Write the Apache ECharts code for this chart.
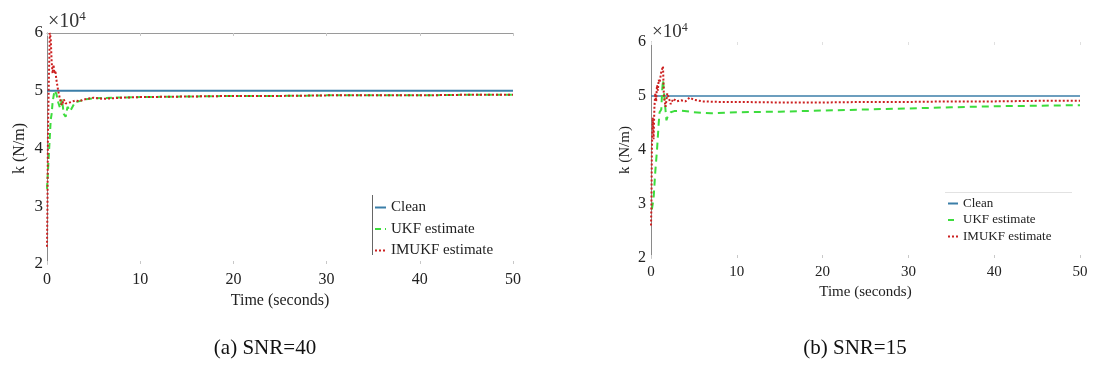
<!DOCTYPE html>
<html>
<head>
<meta charset="utf-8">
<script src="https://cdn.jsdelivr.net/npm/echarts@6/dist/echarts.min.js"></script>
<style>html,body{margin:0;padding:0;background:#fff}#c{width:1098px;height:376px}</style>
</head>
<body>
<div id="c"></div>
<script>
// values in units of 10^4 N/m, time in seconds
var xTicks = [0, 10, 20, 30, 40, 50];
var yTicks = [2, 3, 4, 5, 6];
var seriesNames = ['Clean', 'UKF estimate', 'IMUKF estimate'];
var captions = ['(a) SNR=40', '(b) SNR=15'];

// (a) SNR=40
var cleanA = [[0, 5], [50, 5]];
var ukfA = [[0, 3.3], [0.1, 3.6], [0.2, 3.9], [0.3, 4.2], [0.4, 4.5], [0.5, 4.6], [0.6, 4.8], [0.8, 5.0], [1.0, 4.95],
  [1.2, 4.8], [1.4, 4.7], [1.6, 4.85], [1.8, 4.6], [2.0, 4.55], [2.2, 4.72], [2.5, 4.65], [3.0, 4.8], [3.5, 4.82],
  [4.0, 4.85], [5.0, 4.87], [7, 4.88], [10, 4.89], [15, 4.9], [20, 4.91], [25, 4.91], [30, 4.92], [35, 4.92],
  [40, 4.92], [45, 4.93], [50, 4.93]];
var imukfA = [[0, 2.3], [0.05, 3.0], [0.1, 4.2], [0.2, 5.2], [0.3, 6.0], [0.4, 5.9], [0.5, 5.5], [0.6, 5.3], [0.7, 5.45],
  [0.8, 5.3], [0.9, 5.35], [1.0, 5.2], [1.2, 5.0], [1.4, 4.85], [1.6, 4.75], [1.8, 4.85], [2.0, 4.78], [2.5, 4.8],
  [3.0, 4.83], [3.5, 4.82], [4.0, 4.85], [5.0, 4.88], [6, 4.86], [8, 4.88], [10, 4.89], [15, 4.9], [20, 4.91],
  [25, 4.91], [30, 4.92], [35, 4.92], [40, 4.92], [45, 4.93], [50, 4.93]];

// (b) SNR=15
var cleanB = [[0, 5], [50, 5]];
var ukfB = [[0.1, 2.9], [0.3, 3.1], [0.5, 3.6], [0.7, 4.0], [0.9, 4.5], [1.0, 4.7], [1.2, 4.75], [1.3, 5.1], [1.4, 5.3],
  [1.6, 4.9], [1.8, 4.55], [2.0, 4.65], [2.3, 4.7], [2.7, 4.72], [3.5, 4.73], [5, 4.7], [7, 4.68], [10, 4.7],
  [15, 4.71], [20, 4.73], [25, 4.75], [30, 4.77], [35, 4.79], [40, 4.81], [45, 4.82], [50, 4.83]];
var imukfB = [[0, 2.6], [0.05, 3.0], [0.1, 4.0], [0.2, 4.6], [0.3, 4.2], [0.4, 4.8], [0.5, 5.05], [0.6, 4.9], [0.7, 5.2],
  [0.8, 5.1], [0.9, 5.3], [1.0, 5.25], [1.2, 5.45], [1.4, 5.55], [1.5, 5.0], [1.7, 4.8], [1.9, 5.05], [2.1, 4.95],
  [2.3, 4.85], [2.6, 4.95], [3.0, 4.9], [3.5, 4.92], [4.0, 4.9], [4.5, 4.97], [5.0, 4.93], [6.0, 4.9], [8.0, 4.89],
  [10, 4.89], [15, 4.88], [20, 4.88], [25, 4.89], [30, 4.89], [35, 4.9], [40, 4.9], [45, 4.91], [50, 4.91]];

var FONT = '"Liberation Serif", "Times New Roman", serif';
var C_CLEAN = '#3b7ea8', C_UKF = '#3ddc3d', C_IMUKF = '#cc2020';

function xAxisDef(grid, pos, opts) {
  return Object.assign({
    type: 'value', gridIndex: grid, position: pos, min: xTicks[0], max: xTicks[xTicks.length - 1], interval: 10,
    splitLine: {show: false},
    axisTick: {show: true, inside: true, length: 3, lineStyle: {color: '#c8c8c8'}},
    axisLine: {show: false},
    axisLabel: {show: false}
  }, opts);
}
function yAxisDef(grid, opts) {
  return Object.assign({
    type: 'value', gridIndex: grid, min: yTicks[0], max: yTicks[yTicks.length - 1], interval: 1,
    splitLine: {show: false},
    axisTick: {show: false},
    axisLine: {show: true, lineStyle: {color: '#8a8a8a', width: 1}},
    name: 'k (N/m)', nameLocation: 'middle', nameRotate: 90,
    nameTextStyle: {fontFamily: FONT, fontSize: 16, color: '#222'},
    axisLabel: {fontFamily: FONT, fontSize: 16, color: '#222'}
  }, opts);
}
function mk(name, data, xi, yi, style) {
  return {name: name, type: 'line', data: data, xAxisIndex: xi, yAxisIndex: yi, symbol: 'none',
    showSymbol: false, lineStyle: style, itemStyle: {color: style.color}, z: 2};
}

var chart = echarts.init(document.getElementById('c'), null, {renderer: 'canvas'});
chart.setOption({
  animation: false,
  backgroundColor: '#fff',
  grid: [
    {left: 47, top: 33, width: 466, height: 231},
    {left: 651, top: 42, width: 429, height: 216}
  ],
  xAxis: [
    xAxisDef(0, 'bottom', {
      axisLabel: {show: true, fontFamily: FONT, fontSize: 16, color: '#222', margin: 8},
      name: 'Time (seconds)', nameLocation: 'middle', nameGap: 26,
      nameTextStyle: {fontFamily: FONT, fontSize: 16, color: '#222'}
    }),
    xAxisDef(0, 'top', {axisLine: {show: true, lineStyle: {color: '#9a9a9a', width: 1}}}),
    xAxisDef(1, 'bottom', {
      axisLabel: {show: true, fontFamily: FONT, fontSize: 15, color: '#222', margin: 7},
      name: 'Time (seconds)', nameLocation: 'middle', nameGap: 18,
      nameTextStyle: {fontFamily: FONT, fontSize: 15, color: '#222'}
    }),
    xAxisDef(1, 'top', {axisTick: {show: true, inside: true, length: 3, lineStyle: {color: '#e0e0e0'}}})
  ],
  yAxis: [
    yAxisDef(0, {nameGap: 19, axisLabel: {fontFamily: FONT, fontSize: 17, color: '#222', margin: 4}}),
    yAxisDef(1, {nameGap: 18, nameTextStyle: {fontFamily: FONT, fontSize: 15, color: '#222'},
      axisLabel: {fontFamily: FONT, fontSize: 16, color: '#222', margin: 5}})
  ],
  legend: [
    {
      orient: 'vertical', left: 374, top: 200, padding: 0, itemWidth: 11, itemHeight: 14, itemGap: 6.5,
      data: seriesNames, selectedMode: false,
      itemStyle: {opacity: 0},
      textStyle: {fontFamily: FONT, fontSize: 15, color: '#222'}
    },
    {
      orient: 'vertical', left: 947, top: 197, padding: 0, itemWidth: 10, itemHeight: 12, itemGap: 3.5,
      data: seriesNames, selectedMode: false,
      itemStyle: {opacity: 0},
      textStyle: {fontFamily: FONT, fontSize: 13, color: '#222'}
    }
  ],
  graphic: [
    {type: 'line', shape: {x1: 372.5, y1: 195, x2: 372.5, y2: 255}, style: {stroke: '#666', lineWidth: 1}},
    {type: 'line', shape: {x1: 945, y1: 192.5, x2: 1072, y2: 192.5}, style: {stroke: '#e2e2e2', lineWidth: 1}},
    {type: 'text', left: 48, top: 10, style: {text: '{a|×10}{b|4}', rich: {
      a: {fontFamily: FONT, fontSize: 20, fill: '#333'}, b: {fontFamily: FONT, fontSize: 13, fill: '#333', verticalAlign: 'top', padding: [0, 0, 10, 0]}}}},
    {type: 'text', left: 652, top: 22, style: {text: '{a|×10}{b|4}', rich: {
      a: {fontFamily: FONT, fontSize: 19, fill: '#333'}, b: {fontFamily: FONT, fontSize: 12, fill: '#333', verticalAlign: 'top', padding: [0, 0, 9, 0]}}}},
    {type: 'text', x: 265, y: 348, style: {text: captions[0], fontFamily: FONT, fontSize: 21, fill: '#111', align: 'center', verticalAlign: 'middle'}},
    {type: 'text', x: 855, y: 348, style: {text: captions[1], fontFamily: FONT, fontSize: 21, fill: '#111', align: 'center', verticalAlign: 'middle'}}
  ],
  series: [
    mk(seriesNames[0], cleanA, 0, 0, {color: C_CLEAN, width: 2.2, type: 'solid'}),
    mk(seriesNames[1], ukfA, 0, 0, {color: C_UKF, width: 2, type: [6, 4]}),
    mk(seriesNames[2], imukfA, 0, 0, {color: C_IMUKF, width: 2, type: [2, 2]}),
    mk(seriesNames[0], cleanB, 2, 1, {color: C_CLEAN, width: 1.6, type: 'solid'}),
    mk(seriesNames[1], ukfB, 2, 1, {color: C_UKF, width: 2, type: [7, 5]}),
    mk(seriesNames[2], imukfB, 2, 1, {color: C_IMUKF, width: 2, type: [2, 2]})
  ]
});
</script>
</body>
</html>
